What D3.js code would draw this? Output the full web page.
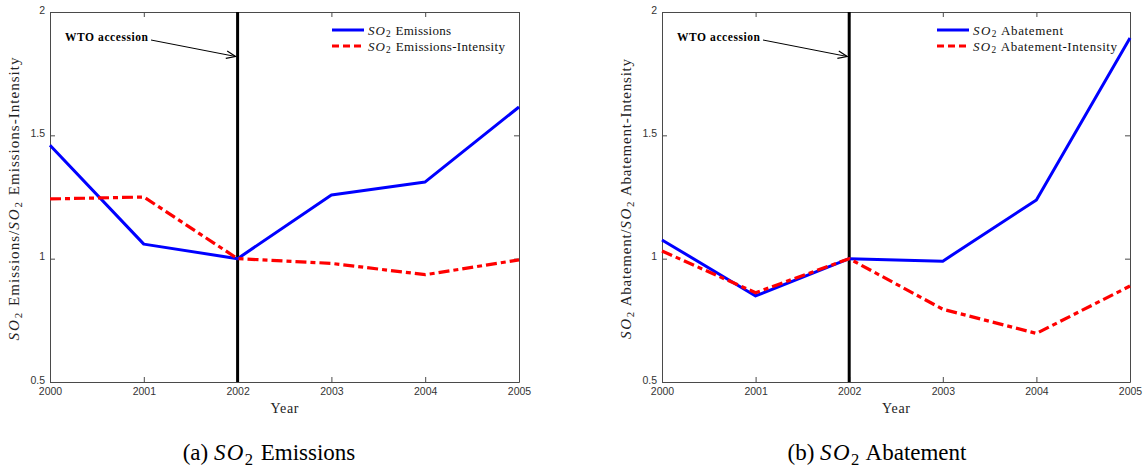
<!DOCTYPE html>
<html>
<head>
<meta charset="utf-8">
<script src="https://cdn.jsdelivr.net/npm/d3@7"></script>
<style>
  body { margin: 0; background: #fff; }
  svg { display: block; }
</style>
</head>
<body>
<svg id="chart" width="1145" height="470"></svg>
<script>
// Years on the x axis and y-axis ticks shared by both panels
const years = [2000, 2001, 2002, 2003, 2004, 2005];
const yTicks = [0.5, 1, 1.5, 2];
const wtoYear = 2002;

// Panel (a): SO2 emissions, indexed to 2002 = 1
const emissions = [1.46, 1.059, 1.0, 1.258, 1.311, 1.615];
const emissionsIntensity = [1.242, 1.25, 1.0, 0.981, 0.935, 0.995];

// Panel (b): SO2 abatement, indexed to 2002 = 1
const abatement = [1.076, 0.849, 1.0, 0.99, 1.238, 1.895];
const abatementIntensity = [1.031, 0.862, 1.0, 0.795, 0.697, 0.889];

const svg = d3.select("#chart");
const serif = "'Liberation Serif', 'DejaVu Serif', serif";
const sans = "'Liberation Sans', Arial, sans-serif";
const axisColor = "#4a4a4a";

// Writes "SO₂ <rest>" into a text element with the math-style italic SO and subscript 2
function so2Text(sel, rest, size) {
  sel.append("tspan").attr("font-style", "italic").attr("letter-spacing", size * 0.06).text("SO");
  sel.append("tspan").attr("font-size", size * 0.72).attr("dy", size * 0.2).text("2");
  sel.append("tspan").attr("dy", -size * 0.2).attr("dx", size * 0.08).text(rest);
}

// Spreads a text element's glyphs over a given width
function spread(sel, len) {
  sel.attr("textLength", len).attr("lengthAdjust", "spacing");
}

function drawPanel(p) {
  const x = d3.scaleLinear().domain([2000, 2005]).range([p.x0, p.x1]);
  const y = d3.scaleLinear().domain([0.5, 2]).range([382, 12]);
  const g = svg.append("g");

  // Axes box with inward ticks on all four sides
  const tickLen = 5;
  const bottom = g.append("g").attr("transform", `translate(0,${y(0.5)})`)
    .call(d3.axisBottom(x).tickValues(years).tickFormat(d3.format("d")).tickSizeInner(-tickLen).tickSizeOuter(0).tickPadding(7));
  const top = g.append("g").attr("transform", `translate(0,${y(2)})`)
    .call(d3.axisTop(x).tickValues(years).tickFormat("").tickSizeInner(-tickLen).tickSizeOuter(0));
  const left = g.append("g").attr("transform", `translate(${x(2000)},0)`)
    .call(d3.axisLeft(y).tickValues(yTicks).tickFormat(d3.format("")).tickSizeInner(-tickLen).tickSizeOuter(0).tickPadding(5));
  const right = g.append("g").attr("transform", `translate(${x(2005)},0)`)
    .call(d3.axisRight(y).tickValues(yTicks).tickFormat("").tickSizeInner(-tickLen).tickSizeOuter(0));
  [bottom, top, left, right].forEach(a => {
    a.select(".domain").attr("stroke", axisColor).attr("stroke-width", 1);
    a.selectAll(".tick line").attr("stroke", axisColor);
    a.selectAll(".tick text").attr("fill", "#333").attr("font-family", sans).attr("font-size", 10.5);
  });
  bottom.selectAll(".tick text").attr("dy", "0.55em");
  left.selectAll(".tick text").attr("dy", "0.1em");

  // WTO accession marker
  g.append("line")
    .attr("x1", x(wtoYear)).attr("x2", x(wtoYear))
    .attr("y1", y(2)).attr("y2", y(0.5))
    .attr("stroke", "#000").attr("stroke-width", 3);

  // Series lines
  const line = d3.line().x((d, i) => x(years[i])).y(d => y(d));
  g.append("path").datum(p.a)
    .attr("d", line).attr("fill", "none")
    .attr("stroke", "#0000ff").attr("stroke-width", 3).attr("stroke-linejoin", "round");
  g.append("path").datum(p.b)
    .attr("d", line).attr("fill", "none")
    .attr("stroke", "#ff0000").attr("stroke-width", 3.2)
    .attr("stroke-dasharray", "11,4,5,4");

  // Annotation arrow
  const ax0 = x(2000) + 101, ay0 = 40;
  const ax1 = x(wtoYear) - 2, ay1 = 56.5;
  g.append("line")
    .attr("x1", ax0).attr("y1", ay0).attr("x2", ax1).attr("y2", ay1)
    .attr("stroke", "#000").attr("stroke-width", 1);
  const ang = Math.atan2(ay1 - ay0, ax1 - ax0);
  const hl = 10, hw = 0.38;
  const pts = [
    [ax1 - hl * Math.cos(ang - hw), ay1 - hl * Math.sin(ang - hw)],
    [ax1, ay1],
    [ax1 - hl * Math.cos(ang + hw), ay1 - hl * Math.sin(ang + hw)]
  ];
  g.append("path").attr("d", d3.line()(pts))
    .attr("fill", "none").attr("stroke", "#000").attr("stroke-width", 1.2);
  g.append("text")
    .attr("x", x(2000) + 15).attr("y", 40.5)
    .attr("font-family", serif).attr("font-weight", "bold").attr("font-size", 11.5)
    .call(spread, 83)
    .text("WTO accession");

  // Legend
  const lx = x(2005) - p.legendOffset;
  [[p.labelA, "#0000ff", null, 30, p.lenA], [p.labelB, "#ff0000", "7,4", 46, p.lenB]].forEach(([lab, col, dash, ly, len]) => {
    g.append("line")
      .attr("x1", lx).attr("x2", lx + 32).attr("y1", ly).attr("y2", ly)
      .attr("stroke", col).attr("stroke-width", 3)
      .attr("stroke-dasharray", dash);
    const t = g.append("text")
      .attr("x", lx + 36).attr("y", ly + 4.5)
      .attr("font-family", serif).attr("font-size", 13).attr("fill", "#111");
    so2Text(t, " " + lab, 13);
    spread(t, len);
  });

  // Axis titles
  g.append("text")
    .attr("x", (x(2000) + x(2005)) / 2).attr("y", 413)
    .attr("text-anchor", "middle")
    .attr("font-family", serif).attr("font-size", 14).attr("fill", "#222")
    .call(spread, 28)
    .text("Year");
  const yl = g.append("text")
    .attr("transform", `translate(${x(2000) - 31},${(y(0.5) + y(2)) / 2 + 2}) rotate(-90)`)
    .attr("text-anchor", "middle")
    .attr("font-family", serif).attr("font-size", 15).attr("fill", "#222");
  so2Text(yl, " " + p.yName + "/", 15);
  so2Text(yl, " " + p.yName + "-Intensity", 15);
  spread(yl, p.yLen);

  // Panel caption
  const cap = g.append("text")
    .attr("x", p.capX).attr("y", 460)
    .attr("text-anchor", "middle")
    .attr("font-family", serif).attr("font-size", 23).attr("fill", "#000");
  cap.append("tspan").text(p.capPrefix + " ");
  so2Text(cap, " " + p.yName, 23);
}

drawPanel({
  x0: 50, x1: 519,
  a: emissions, b: emissionsIntensity,
  labelA: "Emissions", labelB: "Emissions-Intensity",
  lenA: 83, lenB: 137,
  yName: "Emissions", yLen: 283, legendOffset: 187,
  capPrefix: "(a)", capX: 269
});

drawPanel({
  x0: 662, x1: 1130,
  a: abatement, b: abatementIntensity,
  labelA: "Abatement", labelB: "Abatement-Intensity",
  lenA: 90, lenB: 144,
  yName: "Abatement", yLen: 280, legendOffset: 193,
  capPrefix: "(b)", capX: 877
});
</script>
</body>
</html>
